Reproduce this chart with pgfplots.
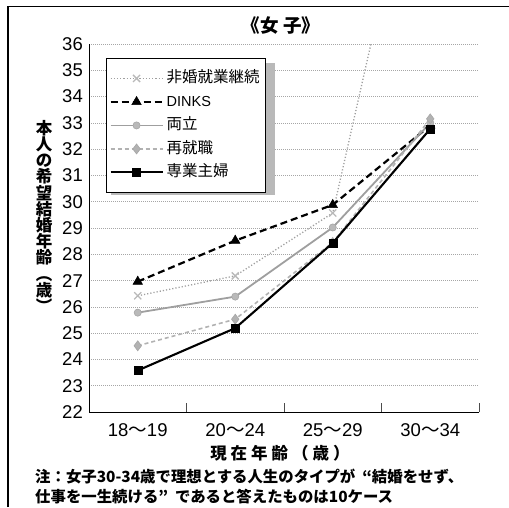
\documentclass[border=0pt]{standalone}
\usepackage{fontspec}
\setmainfont{Liberation Sans}
\newfontfamily\cjk{Noto Sans CJK JP}
\usepackage{pgfplots}
\pgfplotsset{compat=1.18}

\begin{document}
\begin{tikzpicture}
\useasboundingbox (0pt,0pt) rectangle (509pt,507pt);
% frame (top and left edge)
\draw[line width=1.4pt] (8pt,0pt) -- (8pt,500.5pt) -- (509pt,500.5pt);

\begin{axis}[
    at={(89pt,95pt)}, anchor=south west,
    width=390pt, height=368pt, scale only axis,
    xmin=-0.5, xmax=3.5, ymin=22, ymax=36,
    axis x line*=bottom, axis y line*=left,
    axis line style={line width=0.9pt, black},
    xtick={0,1,2,3},
    xticklabels={18{\cjk 〜}19, 20{\cjk 〜}24, 25{\cjk 〜}29, 30{\cjk 〜}34},
    minor xtick={0.5,1.5,2.5,3.5},
    major x tick style={draw=none},
    minor tick length=9pt, tick align=inside,
    minor x tick style={black!70, line width=0.8pt},
    ytick={22,23,...,36},
    ytick style={draw=none},
    ymajorgrids,
    major grid style={gray!70, line width=0.7pt, dash pattern=on 0.8pt off 1.2pt},
    /pgf/number format/assume math mode=true,
    tick label style={font=\fontsize{18.5}{20}\selectfont},
    yticklabel style={inner sep=0pt, xshift=-6pt},
    xticklabel style={inner sep=0pt, text height=13.3pt, text depth=0pt, yshift=-11pt},
    legend style={at={(0.0436,0.962)}, anchor=north west,
        draw=black, line width=0.9pt, fill=white,
        inner xsep=3pt, inner ysep=11pt, row sep=5.5pt, column sep=0pt,
        font=\fontsize{14.5}{16}\selectfont,
        cells={anchor=west},
        nodes={inner xsep=3pt, inner ysep=1.5pt, text height=12pt, text depth=3pt}},
    legend image code/.code={\draw[mark repeat=2,mark phase=2,#1] plot coordinates {(0pt,0pt) (26pt,0pt) (52pt,0pt)};},
]
% legend shadow
\fill[gray!55] (rel axis cs:0.0564,0.5897) rectangle (rel axis cs:0.4769,0.9484);
% 非婚就業継続
\addplot[gray!75, line width=1.3pt, dash pattern=on 1.2pt off 2pt,
    mark=x, mark size=5pt, mark options={solid, gray!55, line width=1.3pt}]
    coordinates {(0,26.42) (1,27.18) (2,29.57) (3,46.0)};
% DINKS
\addplot[black, line width=2.2pt, dash pattern=on 7pt off 4pt,
    mark=triangle*, mark size=5.5pt, mark options={solid, line width=0.5pt}]
    coordinates {(0,26.96) (1,28.52) (2,29.88) (3,32.9)};
% 両立
\addplot[gray!75, line width=1.8pt,
    mark=*, mark size=3.6pt, mark options={solid, fill=gray!55, draw=gray!70, line width=0.6pt}]
    coordinates {(0,25.78) (1,26.39) (2,29.02) (3,33.0)};
% 再就職
\addplot[gray!60, line width=1.6pt, dash pattern=on 4pt off 3pt,
    mark=diamond*, mark size=5pt, mark options={solid, fill=gray!60, draw=gray!70, line width=0.6pt}]
    coordinates {(0,24.52) (1,25.53) (2,28.45) (3,33.15)};
% 専業主婦
\addplot[black, line width=2.1pt,
    mark=square*, mark size=4pt, mark options={solid, line width=0.5pt}]
    coordinates {(0,23.58) (1,25.19) (2,28.43) (3,32.77)};
\legend{{\cjk\fontsize{15.5}{16}\selectfont 非婚就業継続}, DINKS,
        {\cjk\fontsize{15.5}{16}\selectfont 両立},
        {\cjk\fontsize{15.5}{16}\selectfont 再就職},
        {\cjk\fontsize{15.5}{16}\selectfont 専業主婦}}
\end{axis}

% title
\node[font=\cjk\bfseries\fontsize{18.5}{20}\selectfont] at (281pt,481pt) {《女\hspace{5pt}子》};
% y label, stacked vertically
\node[anchor=north, align=center, inner sep=0pt,
      font=\cjk\bfseries\fontsize{16.5}{16.2}\selectfont] at (44pt,387pt)
    {本\\人\\の\\希\\望\\結\\婚\\年\\齢\\︵\\歳\\︶};
% x label
\node[font=\cjk\bfseries\fontsize{16.5}{18}\selectfont] at (280pt,54pt)
    {現\hspace{4pt}在\hspace{4pt}年\hspace{4pt}齢\hspace{4pt}（\hspace{4pt}歳\hspace{4pt}）};
% note
\node[anchor=west, inner sep=0pt, font=\cjk\bfseries\fontsize{15.4}{17}\selectfont] at (35pt,30pt)
    {注：女子30-34歳で理想とする人生のタイプが\hspace{0.45em}“結婚をせず、};
\node[anchor=west, inner sep=0pt, font=\cjk\bfseries\fontsize{15.4}{17}\selectfont] at (35pt,10pt)
    {仕事を一生続ける”\hspace{0.45em}であると答えたものは10ケース};
\end{tikzpicture}
\end{document}
